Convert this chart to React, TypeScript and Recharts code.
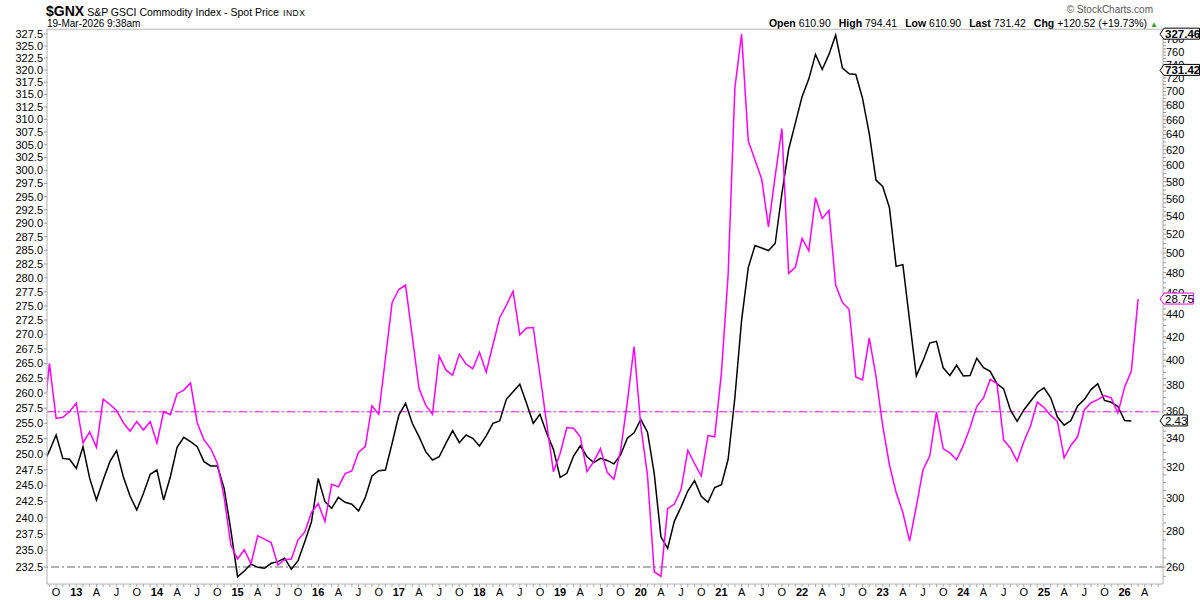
import React from 'react';
import { LineChart, Line, XAxis, YAxis, ReferenceLine } from 'recharts';

const FONT = '"Liberation Sans", Arial, Helvetica, sans-serif';

// month index: 0 = Jan 2012, first row is Aug 2012
const FIRST_MONTH = 7;

// magenta line, left (log) axis
const magentaValues = [
  253.9, 265.0, 255.8, 256.0, 256.9,
  258.3, 251.8, 253.6, 251.1, 259.0, 258.1, 257.1, 255.1, 253.7, 255.3, 253.9, 255.3,
  251.8, 256.9, 256.4, 259.9, 260.5, 261.7, 255.1, 252.3, 250.9, 248.5, 243.2, 235.8,
  233.7, 235.1, 233.0, 237.2, 236.7, 236.2, 232.8, 233.6, 233.7, 236.6, 237.8, 240.8,
  242.2, 239.4, 245.2, 244.8, 246.9, 247.3, 250.3, 251.2, 257.9, 256.5, 265.8, 275.6,
  277.9, 278.7, 269.6, 260.8, 258.0, 256.5, 266.3, 263.9, 263.0, 266.6, 264.9, 264.1,
  266.9, 263.5, 268.2, 272.9, 275.1, 277.6, 269.9, 271.1, 271.2, 263.0, 255.0, 247.2,
  250.1, 254.3, 254.2, 252.8, 247.2, 248.8, 250.9, 247.1, 246.0, 250.6, 258.5, 267.9,
  254.6, 246.6, 231.8, 231.1, 241.4, 242.1, 244.4, 250.6, 248.5, 246.5, 253.0, 252.8,
  263.4, 280.6, 316.3, 327.46, 305.7, 302.0, 298.3, 289.3, 298.9, 308.2, 280.8, 281.9,
  287.2, 284.9, 294.8, 290.9, 292.4, 278.7, 275.6, 274.4, 262.7, 262.2, 269.4, 262.8,
  254.6, 248.3, 243.9, 240.8, 236.4, 241.7, 247.5, 249.7, 256.9, 250.9, 250.2, 249.1,
  251.4, 254.3, 257.8, 259.2, 262.3, 261.6, 252.3, 251.0, 248.9, 252.0, 254.6, 258.5,
  257.6, 256.3, 255.3, 249.4, 251.4, 252.8, 257.2, 258.4, 258.9, 259.6, 259.2, 256.7,
  261.0, 263.7, 276.2,
];

// black line, right (log) axis
const blackValues = [
  321.5, 331.1, 342.3, 326.0, 325.4,
  319.3, 334.0, 312.7, 298.9, 311.6, 323.8, 331.3, 313.8, 301.4, 292.8, 303.1, 315.4,
  318.2, 298.9, 313.8, 333.6, 340.6, 337.5, 334.0, 323.8, 320.9, 320.9, 306.3, 280.8,
  254.8, 257.8, 261.6, 259.8, 259.3, 262.0, 262.9, 264.8, 258.8, 263.4, 274.0, 285.7,
  312.7, 297.9, 293.8, 300.6, 297.5, 296.3, 292.2, 300.4, 314.3, 317.7, 318.2, 336.4,
  356.8, 365.6, 350.7, 341.1, 330.6, 324.9, 327.1, 336.4, 345.4, 336.8, 342.3, 339.9,
  334.5, 341.6, 350.7, 352.4, 368.7, 374.6, 380.4, 365.6, 350.7, 357.4, 343.5, 332.2,
  313.4, 316.0, 327.6, 334.7, 327.1, 323.1, 326.0, 324.6, 322.3, 328.4, 340.0, 343.8,
  353.5, 344.3, 316.0, 276.9, 270.3, 286.1, 294.7, 304.6, 311.3, 301.2, 297.5, 306.8,
  308.6, 325.4, 369.9, 434.6, 485.3, 507.8, 505.2, 502.6, 510.0, 566.0, 620.3, 655.4,
  692.4, 718.3, 756.2, 732.8, 756.2, 787.4, 735.4, 726.3, 725.2, 690.0, 641.2, 582.0,
  574.3, 549.6, 486.3, 488.1, 434.6, 387.1, 399.6, 414.5, 416.0, 393.7, 387.4, 395.8,
  387.1, 387.4, 401.6, 393.7, 390.8, 380.9, 376.8, 360.6, 352.2, 360.6, 367.2, 374.0,
  377.6, 369.9, 355.3, 349.3, 352.7, 363.7, 368.5, 376.2, 380.9, 367.8, 366.4, 363.2,
  352.7, 352.43,
];

const leftTicks = [
  232.5, 235, 237.5, 240, 242.5, 245, 247.5, 250, 252.5, 255, 257.5, 260, 262.5,
  265, 267.5, 270, 272.5, 275, 277.5, 280, 282.5, 285, 287.5, 290, 292.5, 295,
  297.5, 300, 302.5, 305, 307.5, 310, 312.5, 315, 317.5, 320, 322.5, 325, 327.5,
];
const rightMajorTicks = [
  260, 280, 300, 320, 340, 360, 380, 400, 420, 440, 460, 480, 500, 520, 540,
  560, 580, 600, 620, 640, 660, 680, 700, 720, 740, 760, 780,
];
const monthLetters = ['', '', '', 'A', '', '', 'J', '', '', 'O', '', ''];

const LEFT_DOMAIN = [229.98, 328.55];
const RIGHT_DOMAIN = [250.95, 797.3];

const magentaLevel = 256.9;
const grayLevel = 260;

// value tags at the right edge (texts are cut as in the source)
const leftTags = [
  { value: 327.46, text: '327.46', border: '#000', bold: true },
  { value: magentaValues[magentaValues.length - 1], text: '28.75', border: '#ff00ff', bold: false },
];
const rightTags = [
  { value: 731.42, text: '731.42', border: '#000', bold: true },
  { value: blackValues[blackValues.length - 1], text: '2.43', border: '#000', bold: false },
];

const headerStats = [
  ['Open', '610.90'],
  ['High', '794.41'],
  ['Low', '610.90'],
  ['Last', '731.42'],
  ['Chg', '+120.52 (+19.73%)'],
];

const data = magentaValues.map((v, i) => ({
  m: FIRST_MONTH + i,
  magenta: v,
  black: i < blackValues.length ? blackValues[i] : null,
}));

const monthTicks: number[] = [];
for (let m = 8; m <= 173; m++) monthTicks.push(m);
const rightTicks: number[] = [];
for (let v = 255; v <= 795; v += 5) rightTicks.push(v);

const MonthTick = (props: any) => {
  const { x, y, payload } = props;
  const m = payload.value;
  const mo = m % 12;
  if (mo % 3 !== 0) return <g />;
  const isYear = mo === 0;
  const label = isYear ? String(12 + Math.floor(m / 12)) : monthLetters[mo];
  return (
    <text x={x} y={y} dy="0.75em" textAnchor="middle" fontSize={11}
      fontFamily={FONT} fontWeight={isYear ? 'bold' : 'normal'} fill="#000">
      {label}
    </text>
  );
};

const RightTick = (props: any) => {
  const { x, y, payload } = props;
  const v = payload.value;
  const major = rightMajorTicks.includes(v);
  return (
    <g>
      <line x1={x} x2={x + 3} y1={y} y2={y} stroke="#999" />
      {major && (
        <text x={x + 3} y={y} dy="0.36em" fontSize={11} fontFamily={FONT} fill="#000">{v}</text>
      )}
    </g>
  );
};

// tags are drawn by mirrored helper axes; `shift` undoes the stacking offset
const makeTagTick = (tags: any[], shift: number) => (props: any) => {
  const { y, payload } = props;
  const x = props.x + shift;
  const tag = tags.find((t) => t.value === payload.value);
  if (!tag) return <g />;
  const w = tag.text.replace('.', '').length * 6.1 + 6;
  return (
    <g>
      <path d={`M${x - 3},${y} L${x + 1},${y - 6} L${x + w},${y - 6} L${x + w},${y + 5} L${x + 1},${y + 5} Z`}
        fill="#fff" stroke={tag.border} strokeWidth={1} />
      <text x={x + 2} y={y} dy="0.33em" fontSize={11.5} fontFamily={FONT}
        fontWeight={tag.bold ? 'bold' : 'normal'} fill="#000">{tag.text}</text>
    </g>
  );
};

const LeftTagTick = makeTagTick(leftTags, 0);
const RightTagTick = makeTagTick(rightTags, 1);

export default function App() {
  return (
    <div style={{ position: 'absolute', left: 0, top: 0, width: 1200, height: 600, background: '#fff', fontFamily: FONT }}>
      <div style={{ position: 'absolute', left: 46, top: 2, whiteSpace: 'nowrap' }}>
        <span style={{ fontWeight: 'bold', fontSize: 14 }}>$GNX</span>
        <span style={{ fontSize: 10.5, marginLeft: 3 }}>S&amp;P GSCI Commodity Index - Spot Price</span>
        <span style={{ fontSize: 8.5, marginLeft: 4, letterSpacing: 0.6 }}>INDX</span>
      </div>
      <div style={{ position: 'absolute', left: 47, top: 18, fontSize: 10, whiteSpace: 'nowrap' }}>
        19-Mar-2026 9:38am
      </div>
      <div style={{ position: 'absolute', right: 47, top: 4, fontSize: 10, color: '#555', whiteSpace: 'nowrap' }}>
        © StockCharts.com
      </div>
      <div style={{ position: 'absolute', right: 42, top: 17, fontSize: 10.5, whiteSpace: 'nowrap' }}>
        {headerStats.map(([k, v]) => (
          <span key={k} style={{ marginLeft: 8 }}>
            <b>{k}</b> {v}
          </span>
        ))}
        <span style={{ color: '#2a9d2a', fontSize: 8, marginLeft: 3 }}>▲</span>
      </div>

      <LineChart width={1200} height={600} data={data} margin={{ top: 29, right: 0, bottom: 0, left: 0 }}>
        <XAxis dataKey="m" type="number" domain={[7.643, 173.71]} allowDataOverflow
          ticks={monthTicks} interval={0} height={16} tickSize={3} tickMargin={1}
          axisLine={{ stroke: '#b0b0b0' }} tickLine={{ stroke: '#aaa' }} tick={<MonthTick />} />
        <YAxis yAxisId="left" orientation="left" scale="log" domain={LEFT_DOMAIN} allowDataOverflow
          ticks={leftTicks} interval={0} width={47} tickSize={3} tickMargin={1}
          axisLine={{ stroke: '#b0b0b0' }} tickLine={{ stroke: '#999' }}
          tick={{ fontSize: 11, fill: '#000', fontFamily: FONT }}
          tickFormatter={(v: number) => v.toFixed(1)} />
        <YAxis yAxisId="right" orientation="right" scale="log" domain={RIGHT_DOMAIN} allowDataOverflow
          ticks={rightTicks} interval={0} width={37} tickSize={0} tickMargin={0}
          axisLine={{ stroke: '#b0b0b0' }} tickLine={false} tick={<RightTick />} />

        <ReferenceLine yAxisId="left" y={328.5} stroke="#b8b8b8" />
        <ReferenceLine yAxisId="left" y={magentaLevel} stroke="#ff00ff" strokeDasharray="8 3 2 3" />
        <ReferenceLine yAxisId="right" y={grayLevel} stroke="#666" strokeDasharray="8 3 2 3" />

        <Line yAxisId="right" dataKey="black" type="linear" stroke="#000" strokeWidth={1.5}
          dot={false} isAnimationActive={false} />
        <Line yAxisId="left" dataKey="magenta" type="linear" stroke="#ff00ff" strokeWidth={1.5}
          dot={false} isAnimationActive={false} />

        <YAxis yAxisId="tagLeft" orientation="right" mirror width={1} scale="log" domain={LEFT_DOMAIN} allowDataOverflow
          ticks={leftTags.map((t) => t.value)} interval={0} tickSize={0} tickMargin={0}
          axisLine={false} tickLine={false} tick={<LeftTagTick />} />
        <YAxis yAxisId="tagRight" orientation="right" mirror width={1} scale="log" domain={RIGHT_DOMAIN} allowDataOverflow
          ticks={rightTags.map((t) => t.value)} interval={0} tickSize={0} tickMargin={0}
          axisLine={false} tickLine={false} tick={<RightTagTick />} />
      </LineChart>
    </div>
  );
}
